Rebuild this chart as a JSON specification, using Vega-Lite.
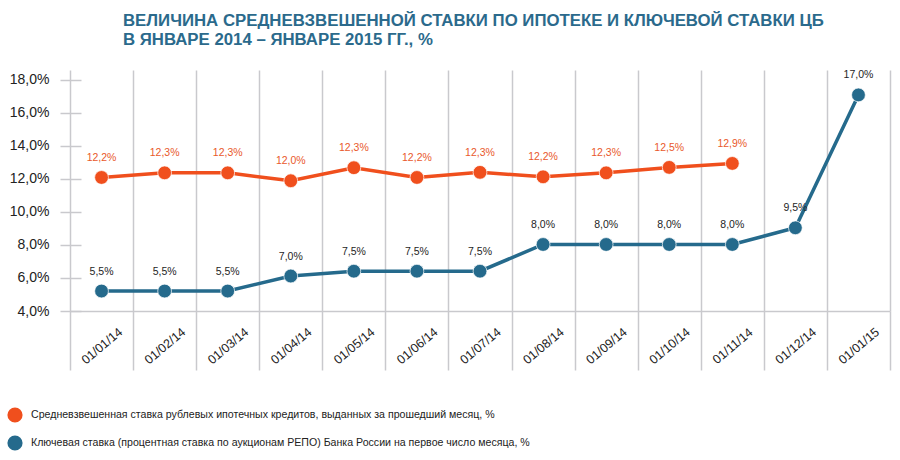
{
  "$schema": "https://vega.github.io/schema/vega-lite/v6.json",
  "autosize": "none",
  "width": 820,
  "height": 241,
  "padding": {"left": 70, "top": 70, "right": 10, "bottom": 149},
  "background": "white",
  "title": {
    "text": ["ВЕЛИЧИНА СРЕДНЕВЗВЕШЕННОЙ СТАВКИ ПО ИПОТЕКЕ И КЛЮЧЕВОЙ СТАВКИ ЦБ", "В ЯНВАРЕ 2014 – ЯНВАРЕ 2015 ГГ., %"],
    "anchor": "start",
    "frame": "group",
    "dx": 53,
    "offset": 21,
    "font": "Liberation Sans",
    "fontSize": 16.8,
    "fontWeight": "bold",
    "color": "#2b6a8c",
    "lineHeight": 19
  },
  "config": {
    "view": {"stroke": null},
    "font": "Liberation Sans"
  },
  "data": {
    "values": [
      {"date": "01/01/14", "series": "Средневзвешенная ставка рублевых ипотечных кредитов, выданных за прошедший месяц, %", "value": 12.09, "label": "12,2%"},
      {"date": "01/02/14", "series": "Средневзвешенная ставка рублевых ипотечных кредитов, выданных за прошедший месяц, %", "value": 12.37, "label": "12,3%"},
      {"date": "01/03/14", "series": "Средневзвешенная ставка рублевых ипотечных кредитов, выданных за прошедший месяц, %", "value": 12.37, "label": "12,3%"},
      {"date": "01/04/14", "series": "Средневзвешенная ставка рублевых ипотечных кредитов, выданных за прошедший месяц, %", "value": 11.89, "label": "12,0%"},
      {"date": "01/05/14", "series": "Средневзвешенная ставка рублевых ипотечных кредитов, выданных за прошедший месяц, %", "value": 12.68, "label": "12,3%"},
      {"date": "01/06/14", "series": "Средневзвешенная ставка рублевых ипотечных кредитов, выданных за прошедший месяц, %", "value": 12.09, "label": "12,2%"},
      {"date": "01/07/14", "series": "Средневзвешенная ставка рублевых ипотечных кредитов, выданных за прошедший месяц, %", "value": 12.40, "label": "12,3%"},
      {"date": "01/08/14", "series": "Средневзвешенная ставка рублевых ипотечных кредитов, выданных за прошедший месяц, %", "value": 12.13, "label": "12,2%"},
      {"date": "01/09/14", "series": "Средневзвешенная ставка рублевых ипотечных кредитов, выданных за прошедший месяц, %", "value": 12.37, "label": "12,3%"},
      {"date": "01/10/14", "series": "Средневзвешенная ставка рублевых ипотечных кредитов, выданных за прошедший месяц, %", "value": 12.70, "label": "12,5%"},
      {"date": "01/11/14", "series": "Средневзвешенная ставка рублевых ипотечных кредитов, выданных за прошедший месяц, %", "value": 12.94, "label": "12,9%"},
      {"date": "01/01/14", "series": "Ключевая ставка (процентная ставка по аукционам РЕПО) Банка России на первое число месяца, %", "value": 5.21, "label": "5,5%"},
      {"date": "01/02/14", "series": "Ключевая ставка (процентная ставка по аукционам РЕПО) Банка России на первое число месяца, %", "value": 5.21, "label": "5,5%"},
      {"date": "01/03/14", "series": "Ключевая ставка (процентная ставка по аукционам РЕПО) Банка России на первое число месяца, %", "value": 5.21, "label": "5,5%"},
      {"date": "01/04/14", "series": "Ключевая ставка (процентная ставка по аукционам РЕПО) Банка России на первое число месяца, %", "value": 6.12, "label": "7,0%"},
      {"date": "01/05/14", "series": "Ключевая ставка (процентная ставка по аукционам РЕПО) Банка России на первое число месяца, %", "value": 6.41, "label": "7,5%"},
      {"date": "01/06/14", "series": "Ключевая ставка (процентная ставка по аукционам РЕПО) Банка России на первое число месяца, %", "value": 6.41, "label": "7,5%"},
      {"date": "01/07/14", "series": "Ключевая ставка (процентная ставка по аукционам РЕПО) Банка России на первое число месяца, %", "value": 6.41, "label": "7,5%"},
      {"date": "01/08/14", "series": "Ключевая ставка (процентная ставка по аукционам РЕПО) Банка России на первое число месяца, %", "value": 8.03, "label": "8,0%"},
      {"date": "01/09/14", "series": "Ключевая ставка (процентная ставка по аукционам РЕПО) Банка России на первое число месяца, %", "value": 8.03, "label": "8,0%"},
      {"date": "01/10/14", "series": "Ключевая ставка (процентная ставка по аукционам РЕПО) Банка России на первое число месяца, %", "value": 8.03, "label": "8,0%"},
      {"date": "01/11/14", "series": "Ключевая ставка (процентная ставка по аукционам РЕПО) Банка России на первое число месяца, %", "value": 8.03, "label": "8,0%"},
      {"date": "01/12/14", "series": "Ключевая ставка (процентная ставка по аукционам РЕПО) Банка России на первое число месяца, %", "value": 9.04, "label": "9,5%"},
      {"date": "01/01/15", "series": "Ключевая ставка (процентная ставка по аукционам РЕПО) Банка России на первое число месяца, %", "value": 17.09, "label": "17,0%"}
    ]
  },
  "encoding": {
    "x": {
      "field": "date",
      "type": "ordinal",
      "bandPosition": 0.5,
      "scale": {
        "type": "band",
        "paddingInner": 0,
        "paddingOuter": 0,
        "domain": ["01/01/14", "01/02/14", "01/03/14", "01/04/14", "01/05/14", "01/06/14", "01/07/14", "01/08/14", "01/09/14", "01/10/14", "01/11/14", "01/12/14", "01/01/15"]
      },
      "axis": {
        "title": null,
        "grid": true,
        "gridColor": "#c9c9cd",
        "gridWidth": 1.5,
        "tickBand": "extent",
        "ticks": true,
        "tickSize": 59,
        "tickColor": "#c9c9cd",
        "tickWidth": 1.5,
        "domainColor": "#c9c9cd",
        "domainWidth": 1.5,
        "labelAngle": -40,
        "labelAlign": "center",
        "labelBaseline": "middle",
        "labelPadding": -24.5,
        "labelFontSize": 12.5,
        "labelColor": "#222222",
        "labelFont": "Liberation Sans"
      }
    },
    "y": {
      "field": "value",
      "type": "quantitative",
      "scale": {"domain": [4, 18.6], "nice": false, "zero": false},
      "axis": {
        "title": null,
        "values": [4, 6, 8, 10, 12, 14, 16, 18],
        "labelExpr": "replace(format(datum.value, '.1f'), '.', ',') + '%'",
        "grid": false,
        "domain": false,
        "offset": -11,
        "tickSize": 21,
        "tickColor": "#c9c9cd",
        "tickWidth": 1.5,
        "labelPadding": 11,
        "labelFontSize": 14,
        "labelColor": "#222222",
        "labelFont": "Liberation Sans"
      }
    },
    "color": {
      "field": "series",
      "type": "nominal",
      "scale": {
        "domain": ["Средневзвешенная ставка рублевых ипотечных кредитов, выданных за прошедший месяц, %", "Ключевая ставка (процентная ставка по аукционам РЕПО) Банка России на первое число месяца, %"],
        "range": ["#f04f1d", "#256a8c"]
      },
      "legend": {
        "title": null,
        "orient": "none",
        "legendX": -63,
        "legendY": 337,
        "symbolType": "circle",
        "symbolSize": 230,
        "symbolStrokeWidth": 0,
        "symbolOpacity": 1,
        "rowPadding": 12,
        "labelOffset": 8,
        "labelFontSize": 10.6,
        "labelFont": "Liberation Sans",
        "labelColor": "#222222",
        "labelLimit": 0,
        "encoding": {"symbols": {"update": {"size": {"value": 230}}}}
      }
    }
  },
  "layer": [
    {
      "mark": {"type": "line", "strokeWidth": 3.5}
    },
    {
      "mark": {"type": "point", "filled": true, "size": 190, "opacity": 1, "stroke": "#ffffff", "strokeWidth": 1, "strokeOpacity": 0.7}
    },
    {
      "mark": {"type": "text", "dy": -19.5, "fontSize": 10.5, "baseline": "middle", "font": "Liberation Sans"},
      "encoding": {
        "text": {"field": "label"},
        "color": {
          "condition": {"test": "datum.series === 'Средневзвешенная ставка рублевых ипотечных кредитов, выданных за прошедший месяц, %'", "value": "#e9592b"},
          "value": "#1e1e1e"
        }
      }
    }
  ]
}
